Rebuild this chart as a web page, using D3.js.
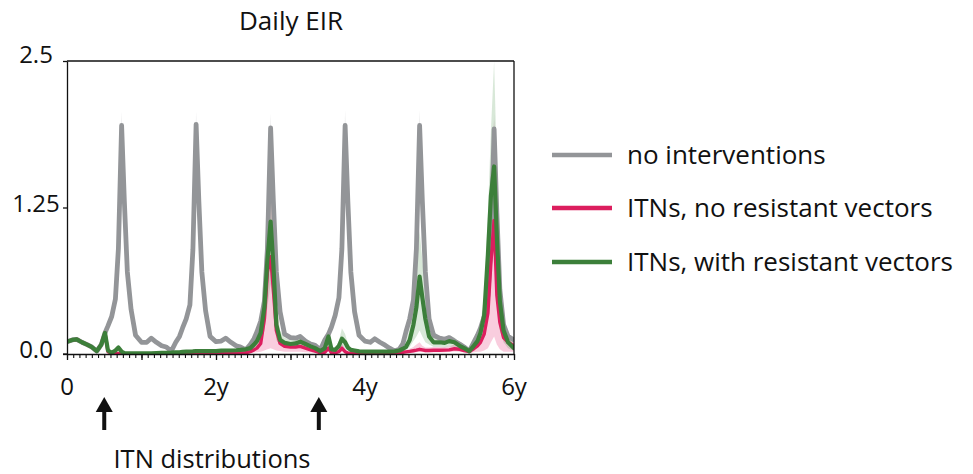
<!DOCTYPE html>
<html>
<head>
<meta charset="utf-8">
<script src="https://cdn.jsdelivr.net/npm/d3@7"></script>
<style>
  html, body { margin: 0; padding: 0; background: #fff; }
  svg text { font-family: "Open Sans", "Noto Sans", sans-serif; fill: #111; font-variant-ligatures: none; }
</style>
</head>
<body>
<svg id="chart" width="973" height="474"></svg>
<script>
// ---------- DATA ----------
const times = [
  0, 0.07, 0.13, 0.20, 0.27, 0.33, 0.40, 0.46, 0.51, 0.55, 0.60, 0.65, 0.69, 0.733, 0.77, 0.81, 0.86, 0.92,
  1, 1.07, 1.13, 1.20, 1.27, 1.33, 1.40, 1.46, 1.51, 1.55, 1.60, 1.65, 1.69, 1.733, 1.77, 1.81, 1.86, 1.92,
  2, 2.07, 2.13, 2.20, 2.27, 2.33, 2.40, 2.46, 2.51, 2.55, 2.60, 2.65, 2.69, 2.733, 2.77, 2.81, 2.86, 2.92,
  3, 3.07, 3.13, 3.20, 3.27, 3.33, 3.40, 3.46, 3.51, 3.55, 3.60, 3.65, 3.69, 3.733, 3.77, 3.81, 3.86, 3.92,
  4, 4.07, 4.13, 4.20, 4.27, 4.33, 4.40, 4.46, 4.51, 4.55, 4.60, 4.65, 4.69, 4.733, 4.77, 4.81, 4.86, 4.92,
  5, 5.07, 5.13, 5.20, 5.27, 5.33, 5.40, 5.46, 5.51, 5.55, 5.60, 5.65, 5.69, 5.733, 5.77, 5.81, 5.86, 5.92,
  6
];

// no interventions
const noIntervention = [
  0.105, 0.12, 0.125, 0.1, 0.08, 0.06, 0.025, 0.08, 0.18, 0.24, 0.32, 0.47, 0.9, 1.95, 1.3, 0.7, 0.38, 0.16,
  0.1, 0.1, 0.135, 0.1, 0.07, 0.06, 0.025, 0.1, 0.15, 0.22, 0.3, 0.42, 0.89, 1.96, 1.3, 0.7, 0.37, 0.15,
  0.105, 0.11, 0.135, 0.1, 0.07, 0.06, 0.035, 0.08, 0.13, 0.19, 0.28, 0.45, 0.9, 1.93, 1.3, 0.7, 0.36, 0.17,
  0.14, 0.135, 0.15, 0.11, 0.085, 0.075, 0.035, 0.12, 0.17, 0.23, 0.33, 0.48, 0.9, 1.95, 1.3, 0.7, 0.36, 0.16,
  0.11, 0.1, 0.13, 0.1, 0.075, 0.05, 0.025, 0.04, 0.09, 0.19, 0.3, 0.46, 0.9, 1.95, 1.3, 0.7, 0.3, 0.16,
  0.135, 0.125, 0.14, 0.11, 0.085, 0.06, 0.025, 0.1, 0.16, 0.22, 0.32, 0.5, 0.95, 1.92, 1.2, 0.55, 0.25, 0.15,
  0.12
];
const noInterventionLo = [
  0.09, 0.105, 0.11, 0.085, 0.065, 0.045, 0.012, 0.065, 0.16, 0.22, 0.3, 0.44, 0.84, 1.8, 1.24, 0.67, 0.36, 0.14,
  0.085, 0.085, 0.12, 0.085, 0.055, 0.045, 0.012, 0.085, 0.13, 0.2, 0.28, 0.39, 0.83, 1.8, 1.24, 0.67, 0.35, 0.13,
  0.09, 0.095, 0.12, 0.085, 0.055, 0.045, 0.02, 0.065, 0.11, 0.17, 0.26, 0.42, 0.84, 1.78, 1.24, 0.67, 0.34, 0.15,
  0.125, 0.12, 0.135, 0.095, 0.07, 0.06, 0.02, 0.105, 0.15, 0.21, 0.31, 0.45, 0.84, 1.8, 1.24, 0.67, 0.34, 0.14,
  0.095, 0.085, 0.115, 0.085, 0.06, 0.035, 0.012, 0.025, 0.075, 0.17, 0.28, 0.43, 0.84, 1.8, 1.24, 0.67, 0.28, 0.14,
  0.12, 0.11, 0.125, 0.095, 0.07, 0.045, 0.012, 0.085, 0.14, 0.2, 0.3, 0.47, 0.89, 1.78, 1.14, 0.52, 0.23, 0.13,
  0.105
];
const noInterventionHi = [
  0.12, 0.135, 0.14, 0.115, 0.095, 0.075, 0.04, 0.095, 0.2, 0.26, 0.34, 0.5, 0.96, 2.07, 1.36, 0.73, 0.4, 0.18,
  0.12, 0.12, 0.155, 0.12, 0.09, 0.08, 0.04, 0.12, 0.17, 0.24, 0.32, 0.45, 0.95, 2.07, 1.36, 0.73, 0.39, 0.17,
  0.125, 0.13, 0.155, 0.12, 0.09, 0.08, 0.05, 0.1, 0.15, 0.21, 0.3, 0.48, 0.96, 2.05, 1.36, 0.73, 0.38, 0.19,
  0.16, 0.155, 0.17, 0.13, 0.105, 0.095, 0.05, 0.14, 0.19, 0.25, 0.35, 0.51, 0.96, 2.08, 1.36, 0.73, 0.38, 0.18,
  0.13, 0.12, 0.15, 0.12, 0.095, 0.07, 0.04, 0.06, 0.11, 0.21, 0.32, 0.49, 0.96, 2.08, 1.36, 0.73, 0.32, 0.18,
  0.155, 0.145, 0.16, 0.13, 0.105, 0.08, 0.04, 0.12, 0.18, 0.24, 0.34, 0.53, 1.0, 2.05, 1.26, 0.58, 0.27, 0.17,
  0.14
];

// ITNs, no resistant vectors
const itnNoRes = [
  0.105, 0.12, 0.125, 0.1, 0.08, 0.06, 0.025, 0.08, 0.18, 0.02, 0.005, 0.004, 0.004, 0.003, 0.003, 0.003, 0.003, 0.003,
  0.003, 0.003, 0.003, 0.003, 0.003, 0.003, 0.003, 0.003, 0.003, 0.003, 0.003, 0.003, 0.003, 0.003, 0.003, 0.003, 0.003, 0.003,
  0.003, 0.003, 0.004, 0.005, 0.006, 0.008, 0.01, 0.02, 0.035, 0.05, 0.09, 0.3, 0.7, 0.83, 0.55, 0.2, 0.09, 0.065,
  0.06, 0.06, 0.065, 0.05, 0.035, 0.025, 0.01, 0.015, 0.05, 0.01, 0.01, 0.02, 0.05, 0.02, 0.008, 0.005, 0.005, 0.005,
  0.005, 0.005, 0.005, 0.005, 0.006, 0.008, 0.01, 0.012, 0.015, 0.018, 0.022, 0.028, 0.033, 0.04, 0.035, 0.03, 0.03, 0.032,
  0.032, 0.033, 0.035, 0.045, 0.04, 0.03, 0.02, 0.045, 0.07, 0.1, 0.17, 0.35, 0.78, 1.14, 0.5, 0.27, 0.14, 0.1,
  0.07
];
const itnNoResLo = [
  0.095, 0.11, 0.115, 0.09, 0.07, 0.05, 0.015, 0.07, 0.16, 0.01, 0.002, 0.002, 0.002, 0.002, 0.002, 0.002, 0.002, 0.002,
  0.002, 0.002, 0.002, 0.002, 0.002, 0.002, 0.002, 0.002, 0.002, 0.002, 0.002, 0.002, 0.002, 0.002, 0.002, 0.002, 0.002, 0.002,
  0.002, 0.002, 0.002, 0.003, 0.003, 0.004, 0.005, 0.008, 0.012, 0.015, 0.02, 0.03, 0.04, 0.05, 0.04, 0.03, 0.025, 0.02,
  0.02, 0.02, 0.02, 0.015, 0.012, 0.01, 0.004, 0.006, 0.02, 0.004, 0.004, 0.008, 0.02, 0.008, 0.003, 0.002, 0.002, 0.002,
  0.002, 0.002, 0.002, 0.002, 0.003, 0.004, 0.005, 0.006, 0.008, 0.01, 0.012, 0.014, 0.016, 0.02, 0.018, 0.015, 0.015, 0.016,
  0.016, 0.016, 0.018, 0.022, 0.02, 0.015, 0.01, 0.015, 0.02, 0.02, 0.03, 0.05, 0.1, 0.15, 0.08, 0.04, 0.02, 0.02,
  0.02
];
const itnNoResHi = [
  0.115, 0.13, 0.135, 0.11, 0.09, 0.07, 0.035, 0.09, 0.2, 0.03, 0.008, 0.006, 0.006, 0.005, 0.005, 0.005, 0.005, 0.005,
  0.005, 0.005, 0.005, 0.005, 0.005, 0.005, 0.005, 0.005, 0.005, 0.005, 0.005, 0.005, 0.005, 0.005, 0.005, 0.005, 0.005, 0.005,
  0.005, 0.005, 0.006, 0.008, 0.01, 0.013, 0.018, 0.035, 0.06, 0.09, 0.2, 0.6, 1.2, 1.7, 1.1, 0.45, 0.16, 0.11,
  0.1, 0.1, 0.11, 0.09, 0.07, 0.05, 0.02, 0.03, 0.09, 0.02, 0.02, 0.04, 0.09, 0.04, 0.015, 0.01, 0.01, 0.01,
  0.01, 0.01, 0.01, 0.01, 0.012, 0.015, 0.018, 0.022, 0.03, 0.035, 0.045, 0.06, 0.08, 0.1, 0.07, 0.055, 0.055, 0.06,
  0.06, 0.06, 0.065, 0.08, 0.07, 0.055, 0.04, 0.08, 0.12, 0.17, 0.28, 0.6, 1.4, 2.0, 1.0, 0.45, 0.25, 0.16,
  0.12
];

// ITNs, with resistant vectors
const itnWithRes = [
  0.105, 0.12, 0.125, 0.1, 0.08, 0.06, 0.025, 0.08, 0.18, 0.03, 0.01, 0.03, 0.055, 0.02, 0.008, 0.005, 0.005, 0.005,
  0.005, 0.005, 0.006, 0.008, 0.01, 0.01, 0.012, 0.015, 0.015, 0.018, 0.02, 0.02, 0.022, 0.025, 0.025, 0.025, 0.025, 0.025,
  0.025, 0.028, 0.03, 0.03, 0.032, 0.035, 0.04, 0.05, 0.08, 0.11, 0.18, 0.4, 0.8, 1.13, 0.76, 0.25, 0.12, 0.095,
  0.085, 0.09, 0.105, 0.085, 0.065, 0.05, 0.025, 0.05, 0.15, 0.04, 0.035, 0.07, 0.13, 0.1, 0.055, 0.035, 0.03, 0.022,
  0.02, 0.02, 0.02, 0.02, 0.02, 0.02, 0.022, 0.03, 0.045, 0.06, 0.12, 0.25, 0.4, 0.66, 0.48, 0.3, 0.15, 0.1,
  0.1, 0.095, 0.11, 0.1, 0.07, 0.05, 0.025, 0.07, 0.11, 0.18, 0.33, 0.85, 1.35, 1.6, 1.0, 0.45, 0.2, 0.1,
  0.05
];
const itnWithResLo = [
  0.095, 0.11, 0.115, 0.09, 0.07, 0.05, 0.015, 0.07, 0.16, 0.02, 0.005, 0.02, 0.04, 0.01, 0.004, 0.003, 0.003, 0.003,
  0.003, 0.003, 0.003, 0.004, 0.005, 0.005, 0.006, 0.008, 0.008, 0.01, 0.012, 0.012, 0.013, 0.015, 0.015, 0.015, 0.015, 0.015,
  0.015, 0.017, 0.018, 0.018, 0.02, 0.022, 0.025, 0.03, 0.05, 0.07, 0.1, 0.2, 0.4, 0.6, 0.4, 0.12, 0.07, 0.06,
  0.055, 0.06, 0.07, 0.055, 0.04, 0.03, 0.015, 0.03, 0.08, 0.025, 0.02, 0.04, 0.07, 0.05, 0.03, 0.02, 0.017, 0.012,
  0.012, 0.012, 0.012, 0.012, 0.012, 0.012, 0.013, 0.018, 0.025, 0.035, 0.06, 0.11, 0.15, 0.2, 0.15, 0.1, 0.08, 0.06,
  0.06, 0.055, 0.065, 0.06, 0.04, 0.03, 0.015, 0.04, 0.06, 0.1, 0.2, 0.45, 0.7, 0.9, 0.5, 0.2, 0.1, 0.05,
  0.025
];
const itnWithResHi = [
  0.115, 0.13, 0.135, 0.11, 0.09, 0.07, 0.035, 0.09, 0.2, 0.045, 0.02, 0.045, 0.075, 0.035, 0.014, 0.01, 0.01, 0.01,
  0.01, 0.01, 0.012, 0.015, 0.018, 0.018, 0.02, 0.025, 0.025, 0.03, 0.032, 0.034, 0.036, 0.04, 0.04, 0.04, 0.04, 0.04,
  0.04, 0.043, 0.045, 0.045, 0.048, 0.052, 0.06, 0.08, 0.12, 0.17, 0.3, 0.75, 1.3, 1.75, 1.2, 0.45, 0.2, 0.14,
  0.12, 0.125, 0.145, 0.12, 0.095, 0.075, 0.04, 0.08, 0.23, 0.06, 0.05, 0.11, 0.22, 0.17, 0.09, 0.055, 0.045, 0.035,
  0.03, 0.03, 0.03, 0.03, 0.03, 0.03, 0.035, 0.045, 0.07, 0.1, 0.22, 0.45, 0.75, 1.05, 0.8, 0.55, 0.35, 0.2,
  0.14, 0.135, 0.155, 0.14, 0.1, 0.075, 0.04, 0.1, 0.16, 0.26, 0.5, 1.2, 1.9, 2.5, 1.6, 0.8, 0.32, 0.16,
  0.08
];

const seriesNames = ["no interventions", "ITNs, no resistant vectors", "ITNs, with resistant vectors"];
const seriesColors = ["#939598", "#dc1e5e", "#3c7f3a"];
const bandColors = ["#c9cacc", "#e8397a", "#3c8a3a"];
const yTickValues = [0, 1.25, 2.5];
const yTickLabels = ["0.0", "1.25", "2.5"];
const xTickValues = [0, 2, 4, 6];
const xTickLabels = ["0", "2y", "4y", "6y"];
const itnDistributionTimes = [0.5, 3.38];
const titleText = "Daily EIR";
const annotationText = "ITN distributions";

// ---------- DRAW ----------
const svg = d3.select("#chart");
const x = d3.scaleLinear().domain([0, 6]).range([67, 514]);
const y = d3.scaleLinear().domain([0, 2.5]).range([354, 61]);

const series = [
  { name: seriesNames[0], v: noIntervention, lo: noInterventionLo, hi: noInterventionHi, w: 4.8, bandOp: 0.45 },
  { name: seriesNames[1], v: itnNoRes, lo: itnNoResLo, hi: itnNoResHi, w: 3.4, bandOp: 0.25 },
  { name: seriesNames[2], v: itnWithRes, lo: itnWithResLo, hi: itnWithResHi, w: 4.2, bandOp: 0.2 }
];

const plot = svg.append("g");
svg.append("clipPath").attr("id", "clip")
  .append("rect").attr("x", 67).attr("y", 61).attr("width", 447).attr("height", 293);

const area = d3.area()
  .x((d, i) => x(times[i]))
  .y0(d => y(d[0]))
  .y1(d => y(d[1]));
const line = d3.line()
  .x((d, i) => x(times[i]))
  .y(d => y(d));

const inner = plot.append("g").attr("clip-path", "url(#clip)");
series.forEach((s, k) => {
  inner.append("path")
    .datum(times.map((t, i) => [s.lo[i], s.hi[i]]))
    .attr("d", area)
    .attr("fill", bandColors[k])
    .attr("fill-opacity", s.bandOp);
});
series.forEach((s, k) => {
  inner.append("path")
    .datum(s.v)
    .attr("d", line)
    .attr("fill", "none")
    .attr("stroke", seriesColors[k])
    .attr("stroke-width", s.w)
    .attr("stroke-linejoin", "round")
    .attr("stroke-linecap", "round");
});

// frame
const frame = svg.append("g").attr("stroke", "#111").attr("stroke-width", 1.3).attr("fill", "none");
frame.append("line").attr("x1", x(0)).attr("x2", x(6)).attr("y1", y(2.5)).attr("y2", y(2.5));
frame.append("line").attr("x1", x(6)).attr("x2", x(6)).attr("y1", y(2.5)).attr("y2", y(0));

// y axis
const yAxis = svg.append("g")
  .attr("transform", `translate(${x(0)},0)`)
  .call(d3.axisLeft(y).tickValues(yTickValues).tickSize(4).tickSizeOuter(0).tickFormat(""));
yAxis.selectAll("path, line").attr("stroke", "#111").attr("stroke-width", 1.3);
svg.append("g").selectAll("text")
  .data(yTickValues)
  .join("text")
  .attr("x", 36)
  .attr("y", (d, i) => y(d) + [4, 4, 2][i])
  .attr("text-anchor", "middle")
  .attr("font-size", 24)
  .text((d, i) => yTickLabels[i]);

// x axis: monthly minor ticks, yearly major ticks
const xAxisMinor = svg.append("g")
  .attr("transform", `translate(0,${y(0)})`)
  .call(d3.axisBottom(x).tickValues(d3.range(0, 73).map(m => m / 12)).tickSize(4).tickSizeOuter(0).tickFormat(""));
xAxisMinor.selectAll("path, line").attr("stroke", "#111").attr("stroke-width", 1.1);
xAxisMinor.select("path").attr("stroke-width", 1.3);
const xAxisMajor = svg.append("g")
  .attr("transform", `translate(0,${y(0)})`)
  .call(d3.axisBottom(x).tickValues(d3.range(0, 7)).tickSize(6).tickSizeOuter(0).tickFormat(""));
xAxisMajor.selectAll("line").attr("stroke", "#111").attr("stroke-width", 1.3);
xAxisMajor.select("path").remove();
svg.append("line").attr("x1", 63).attr("x2", x(0)).attr("y1", y(0)).attr("y2", y(0))
  .attr("stroke", "#111").attr("stroke-width", 1.3);

svg.append("g").selectAll("text")
  .data(xTickValues)
  .join("text")
  .attr("x", d => x(d))
  .attr("y", 395)
  .attr("text-anchor", "middle")
  .attr("font-size", 24)
  .text((d, i) => xTickLabels[i]);

// title
svg.append("text").attr("x", 291).attr("y", 30).attr("text-anchor", "middle")
  .attr("font-size", 26).text(titleText);

// ITN distribution arrows
const arrows = svg.append("g");
itnDistributionTimes.forEach(t => {
  const cx = x(t);
  arrows.append("line").attr("x1", cx).attr("x2", cx).attr("y1", 408).attr("y2", 430)
    .attr("stroke", "#111").attr("stroke-width", 4);
  arrows.append("path")
    .attr("d", `M${cx - 8.5},${412} L${cx},${397} L${cx + 8.5},${412} Z`)
    .attr("fill", "#111");
});
svg.append("text").attr("x", 212).attr("y", 468).attr("text-anchor", "middle")
  .attr("font-size", 25.5).text(annotationText);

// legend
const legendY = [155, 208, 262];
const legend = svg.append("g");
seriesNames.forEach((n, i) => {
  legend.append("line").attr("x1", 552).attr("x2", 612).attr("y1", legendY[i]).attr("y2", legendY[i])
    .attr("stroke", seriesColors[i]).attr("stroke-width", 4.5);
  legend.append("text").attr("x", 627).attr("y", legendY[i] + 9)
    .attr("font-size", 26).text(n);
});
</script>
</body>
</html>
